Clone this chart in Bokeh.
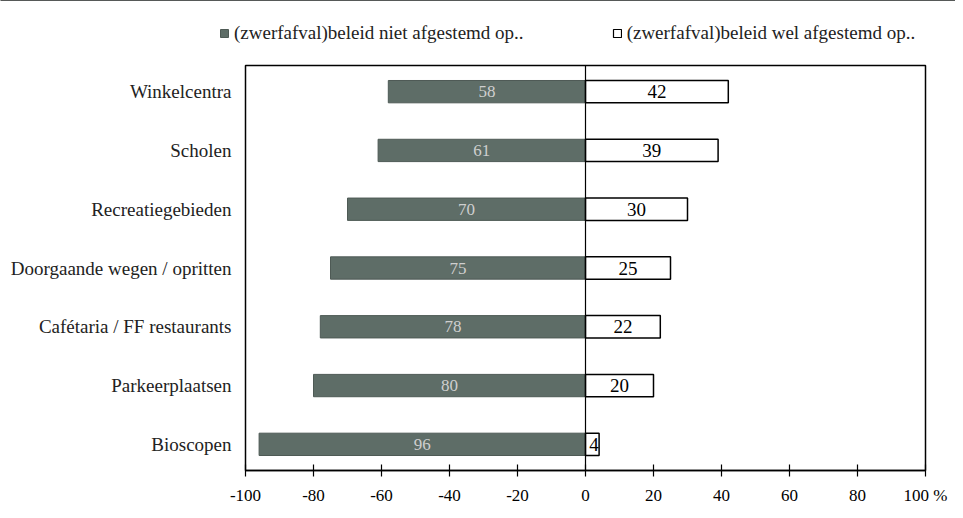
from bokeh.plotting import figure
from bokeh.layouts import column
from bokeh.models import ColumnDataSource, FactorRange, Range1d, Legend, LegendItem, FixedTicker, Span
from bokeh.embed import file_html
from bokeh.resources import INLINE
from bokeh.core.properties import value

categories = ["Winkelcentra", "Scholen", "Recreatiegebieden", "Doorgaande wegen / opritten",
              "Cafétaria / FF restaurants", "Parkeerplaatsen", "Bioscopen"]
niet_afgestemd = [58, 61, 70, 75, 78, 80, 96]
wel_afgestemd = [42, 39, 30, 25, 22, 20, 4]
x_ticks = [-100, -80, -60, -40, -20, 0, 20, 40, 60, 80, 100]
series_names = ["(zwerfafval)beleid niet afgestemd op..", "(zwerfafval)beleid wel afgestemd op.."]

FONT = "Liberation Serif"
GRAY = "#5e6d67"

src = ColumnDataSource(dict(
    cat=categories,
    neg=[-v for v in niet_afgestemd],
    pos=wel_afgestemd,
    neg_mid=[-v / 2 for v in niet_afgestemd],
    pos_mid=[max(v / 2, 2.5) for v in wel_afgestemd],
    neg_lbl=[str(v) for v in niet_afgestemd],
    pos_lbl=[str(v) for v in wel_afgestemd],
))

# ---- legend strip (its own frame, not aligned with the chart) ----
lg = figure(width=955, height=50, output_backend="svg", toolbar_location=None,
            x_range=Range1d(0, 1), y_range=Range1d(0, 1),
            min_border_left=0, min_border_right=0, min_border_top=0, min_border_bottom=0)
lg.frame_align = False
lg.axis.visible = False
lg.grid.visible = False
lg.outline_line_color = None
hidden = ColumnDataSource(dict(y=[5], left=[0], right=[1]))  # outside the strip's visible range
g_neg = lg.hbar(y="y", left="left", right="right", height=0.5, source=hidden,
                fill_color=GRAY, line_color="#4e5a55")
g_pos = lg.hbar(y="y", left="left", right="right", height=0.5, source=hidden,
                fill_color="white", line_color="black", line_width=1.2)
legend = Legend(items=[LegendItem(label=series_names[0], renderers=[g_neg]),
                       LegendItem(label=series_names[1], renderers=[g_pos])],
                orientation="horizontal", location=(219, 6),
                label_text_font=FONT, label_text_font_size="19px", label_text_color="#222222",
                glyph_width=10, glyph_height=10, spacing=88, padding=0, margin=0,
                label_standoff=5, border_line_color=None, background_fill_alpha=0)
lg.add_layout(legend, "center")

# ---- main chart ----
p = figure(width=955, height=460, output_backend="svg", toolbar_location=None,
           y_range=FactorRange(factors=list(reversed(categories)),
                               range_padding=-0.055, range_padding_units="absolute"),
           x_range=Range1d(-100, 100),
           min_border_left=245, min_border_right=30, min_border_top=15, min_border_bottom=40)
p.frame_align = False

p.background_fill_color = "white"
p.border_fill_color = "white"
p.outline_line_color = "black"
p.outline_line_width = 1.5
p.grid.visible = False

p.hbar(y="cat", left="neg", right=0, height=0.38, source=src,
       fill_color=GRAY, line_color="#4e5a55", line_width=1)
p.hbar(y="cat", left=0, right="pos", height=0.38, source=src,
       fill_color="white", line_color="black", line_width=1.5)

p.add_layout(Span(location=0, dimension="height", line_color="black", line_width=1.2))

p.text(x="neg_mid", y="cat", text="neg_lbl", source=src, text_align="center", text_baseline="middle",
       text_color="#cfcfcf", text_font=value(FONT), text_font_size="17px")
p.text(x="pos_mid", y="cat", text="pos_lbl", source=src, text_align="center", text_baseline="middle",
       text_color="black", text_font=value(FONT), text_font_size="19px")

xa = p.xaxis[0]
xa.ticker = FixedTicker(ticks=x_ticks)
xa.major_label_overrides = {100: "100 %", -100: "-100", -80: "-80", -60: "-60", -40: "-40", -20: "-20"}
xa.major_tick_in = 6
xa.major_tick_out = 6
xa.minor_tick_line_color = None
xa.axis_line_color = "black"
xa.axis_line_width = 1.5
xa.major_tick_line_color = "black"
xa.major_tick_line_width = 1.2
xa.major_label_text_font = FONT
xa.major_label_text_font_size = "17px"
xa.major_label_text_color = "black"
xa.major_label_standoff = 9

ya = p.yaxis[0]
ya.axis_line_color = None
ya.major_tick_line_color = None
ya.minor_tick_line_color = None
ya.major_label_text_font = FONT
ya.major_label_text_font_size = "19px"
ya.major_label_text_color = "#222222"
ya.major_label_standoff = 8

layout = column(lg, p, spacing=0)
open("out.html", "w").write(file_html(layout, INLINE))
